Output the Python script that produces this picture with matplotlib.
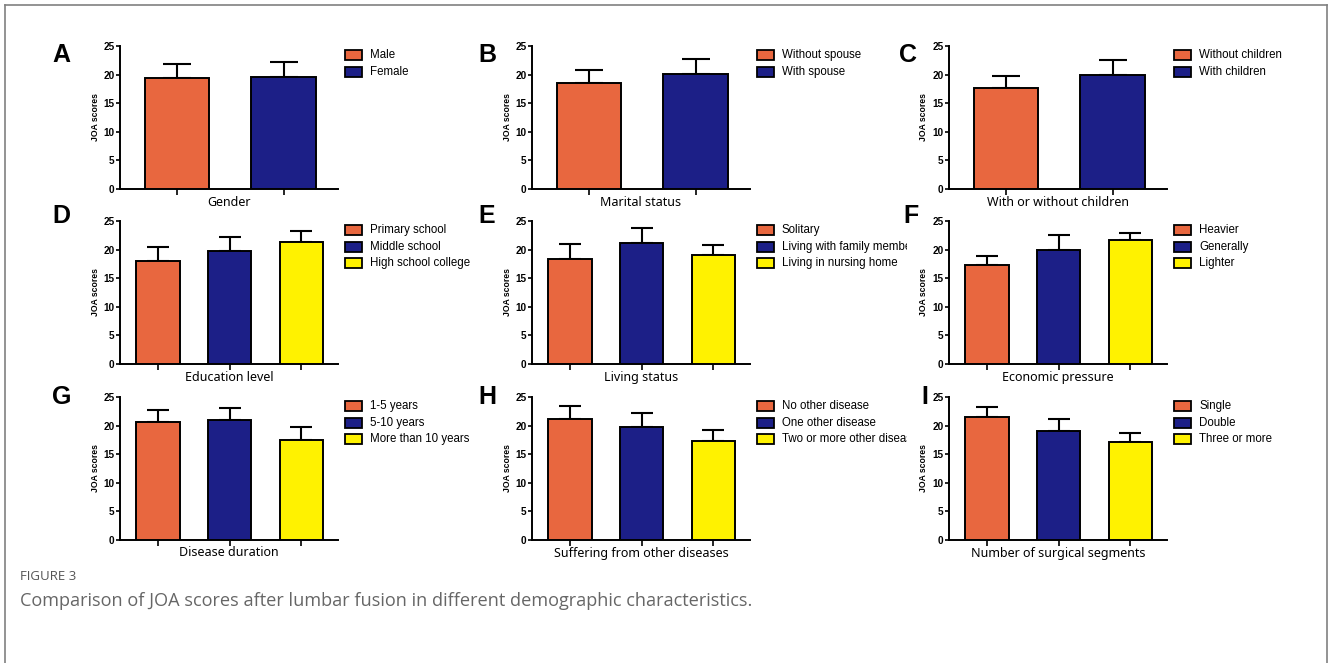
import matplotlib
matplotlib.use('Agg')
import matplotlib.pyplot as plt
from matplotlib.patches import Rectangle
from matplotlib.lines import Line2D
from matplotlib.transforms import Bbox
import numpy as np

# Data (mean JOA score and SD)
gender_labels = ['Male', 'Female']
gender_means = [19.4, 19.5]
gender_sd = [2.5, 2.75]

marital_labels = ['Without spouse', 'With spouse']
marital_means = [18.5, 20.1]
marital_sd = [2.35, 2.6]

children_labels = ['Without children', 'With children']
children_means = [17.7, 20.0]
children_sd = [2.1, 2.6]

education_labels = ['Primary school', 'Middle school', 'High school college']
education_means = [18.0, 19.7, 21.3]
education_sd = [2.5, 2.5, 1.9]

living_labels = ['Solitary', 'Living with family members', 'Living in nursing home']
living_means = [18.4, 21.2, 19.0]
living_sd = [2.5, 2.6, 1.8]

economic_labels = ['Heavier', 'Generally', 'Lighter']
economic_means = [17.3, 19.9, 21.6]
economic_sd = [1.55, 2.7, 1.25]

duration_labels = ['1-5 years', '5-10 years', 'More than 10 years']
duration_means = [20.6, 21.0, 17.5]
duration_sd = [2.1, 2.0, 2.2]

disease_labels = ['No other disease', 'One other disease', 'Two or more other diseases']
disease_means = [21.1, 19.8, 17.3]
disease_sd = [2.4, 2.4, 1.85]

segment_labels = ['Single', 'Double', 'Three or more']
segment_means = [21.5, 19.0, 17.1]
segment_sd = [1.8, 2.1, 1.55]

COLORS = ['#E8673F', '#1C1F87', '#FFF200']
W, H = 1330, 663

plt.rcParams['font.family'] = ['Liberation Sans', 'DejaVu Sans']

fig = plt.figure(figsize=(W / 100, H / 100), dpi=100)


def fx(x):
    return x / W


def fy(y):
    return 1 - y / H


# Panel grid in pixels (left, top of axes)
COL_X = [120, 532, 949]
ROW_Y = [46, 221, 397]
AX_W, AX_H = 218, 143
LETTER_POS = {
    'A': (52, 55), 'B': (478, 55), 'C': (899, 55),
    'D': (52, 216), 'E': (478, 216), 'F': (903, 216),
    'G': (52, 397), 'H': (478, 397), 'I': (921, 397),
}
CLIP_RIGHT = [470, 907, 1326]

panels = [
    ('A', 'Gender', gender_labels, gender_means, gender_sd),
    ('B', 'Marital status', marital_labels, marital_means, marital_sd),
    ('C', 'With or without children', children_labels, children_means, children_sd),
    ('D', 'Education level', education_labels, education_means, education_sd),
    ('E', 'Living status', living_labels, living_means, living_sd),
    ('F', 'Economic pressure', economic_labels, economic_means, economic_sd),
    ('G', 'Disease duration', duration_labels, duration_means, duration_sd),
    ('H', 'Suffering from other diseases', disease_labels, disease_means, disease_sd),
    ('I', 'Number of surgical segments', segment_labels, segment_means, segment_sd),
]

for i, (letter, xlabel, labels, means, sd) in enumerate(panels):
    row, col = divmod(i, 3)
    left, top = COL_X[col], ROW_Y[row]
    ax = fig.add_axes([fx(left), fy(top + AX_H), AX_W / W, AX_H / H])

    n = len(means)
    x = np.arange(n)
    ax.bar(x, means, width=0.6, color=COLORS[:n], edgecolor='black',
           linewidth=1.4, zorder=3)
    capsize = 10 if n == 2 else 8
    ax.errorbar(x, means, yerr=[np.zeros(n), sd], fmt='none', ecolor='black',
                elinewidth=1.5, capsize=capsize, capthick=1.5, zorder=2)

    ax.set_xlim(-0.53, n - 0.49)
    ax.set_ylim(0, 25)
    ax.set_yticks([0, 5, 10, 15, 20, 25])
    ax.set_xticks(x)
    ax.set_xticklabels([])
    for s in ['top', 'right']:
        ax.spines[s].set_visible(False)
    for s in ['left', 'bottom']:
        ax.spines[s].set_linewidth(1.4)
    ax.tick_params(axis='y', length=3, width=1.2, pad=1, labelsize=7.2)
    ax.tick_params(axis='x', length=4, width=1.2)
    for t in ax.get_yticklabels():
        t.set_fontweight('bold')

    ax.text(-25 / AX_W, 0.5, 'JOA scores', transform=ax.transAxes,
            rotation=90, ha='center', va='center', fontsize=6.2, fontweight='bold')
    ax.text(0.5, -13 / AX_H, xlabel, transform=ax.transAxes, ha='center',
            va='center', fontsize=9, family=['Noto Sans', 'DejaVu Sans'],
            fontweight='semibold')

    lx, ly = LETTER_POS[letter]
    fig.text(fx(lx), fy(ly), letter, ha='left', va='center', fontsize=18,
             fontweight='bold')

    # Legend drawn by hand so long entries get cut at the panel edge
    clip = Bbox.from_extents(0, 0, CLIP_RIGHT[col], H)
    px = left + AX_W + 7
    for k, lab in enumerate(labels):
        yc = top + 9 + k * 16.7
        fig.add_artist(Rectangle((fx(px), fy(yc + 5)), 17 / W, 10 / H,
                                 transform=fig.transFigure, facecolor=COLORS[k],
                                 edgecolor='black', linewidth=1.3))
        t = fig.text(fx(px + 25), fy(yc), lab, ha='left', va='center', fontsize=8.3)
        t.set_clip_box(clip)
        t.set_clip_on(True)

# Caption
fig.text(fx(20), fy(577), 'FIGURE 3', ha='left', va='center', fontsize=9.5,
         color='#555555', family=['Open Sans', 'DejaVu Sans'])
fig.text(fx(20), fy(601),
         'Comparison of JOA scores after lumbar fusion in different demographic characteristics.',
         ha='left', va='center', fontsize=13.1, color='#666666',
         family=['Open Sans', 'DejaVu Sans'])

# Outer frame (open at the bottom)
frame = dict(color='#808080', linewidth=1.2, transform=fig.transFigure)
fig.add_artist(Line2D([fx(5), fx(5)], [fy(5), 0], **frame))
fig.add_artist(Line2D([fx(5), fx(1327)], [fy(5), fy(5)], **frame))
fig.add_artist(Line2D([fx(1327), fx(1327)], [fy(5), 0], **frame))

fig.savefig('out.png', dpi=100)
